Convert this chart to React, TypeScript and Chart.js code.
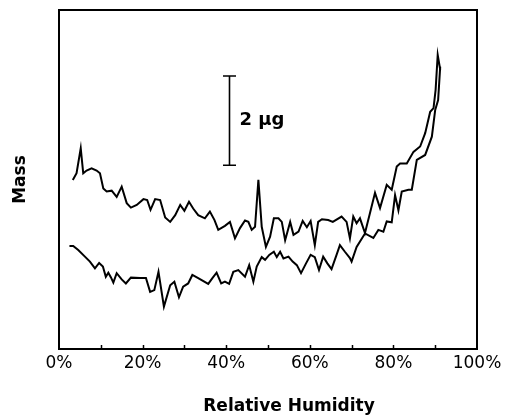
import { useEffect, useRef } from "react";
import { Chart, registerables } from "chart.js";

Chart.register(...registerables);

// Relative humidity (%) and mass (µg)
const upperHumidity = [
  3.3, 4.2, 5.2, 5.8, 6.6, 7.8, 9.0, 9.8, 10.6, 11.4, 12.6, 13.8, 15.0, 16.2, 17.2, 18.6, 20.2, 21.1, 21.9, 23.0,
  24.2, 25.4, 26.6, 27.8, 29.0, 30.0, 31.1, 32.1, 33.3, 34.9, 36.1, 37.2, 38.1, 39.7, 40.9, 42.1, 43.3, 44.5,
  45.3, 46.1, 46.9, 47.7, 48.5, 49.5, 50.5, 51.4, 52.5, 53.3, 54.1, 55.3, 56.1, 57.3, 58.3, 59.3, 60.2, 61.2,
  62.0, 62.9, 64.4, 65.5, 67.6, 68.8, 69.6, 70.4, 71.2, 72.0, 73.2, 74.4, 75.6, 76.8, 78.4, 79.6, 80.8, 81.6,
  83.2, 84.8, 86.4, 87.6, 88.8, 89.6, 90.1, 90.6, 91.2,
];
const upperMass = [
  3.79, 3.94, 4.5, 3.94, 4.0, 4.05, 4.0, 3.94, 3.6, 3.53, 3.55, 3.41, 3.64, 3.27, 3.17, 3.23, 3.36, 3.34, 3.12, 3.36,
  3.34, 2.95, 2.85, 3.0, 3.23, 3.1, 3.3, 3.15, 3.0, 2.93, 3.08, 2.89, 2.67, 2.76, 2.85, 2.48, 2.71, 2.88,
  2.85, 2.67, 2.74, 3.79, 2.74, 2.29, 2.52, 2.93, 2.93, 2.85, 2.44, 2.85, 2.56, 2.63, 2.87, 2.73, 2.87, 2.33,
  2.85, 2.91, 2.89, 2.85, 2.97, 2.85, 2.48, 2.97, 2.82, 2.93, 2.6, 3.05, 3.5, 3.16, 3.68, 3.57, 4.09, 4.16,
  4.16, 4.42, 4.54, 4.84, 5.32, 5.4, 5.81, 6.59, 6.26,
];

const lowerHumidity = [
  2.5, 3.4, 4.6, 6.2, 7.4, 8.6, 9.6, 10.5, 11.2, 11.8, 12.4, 13.0, 13.8, 15.0, 16.0, 17.2, 19.4, 20.8, 21.8, 22.8,
  23.8, 25.1, 26.6, 27.6, 28.7, 29.7, 30.9, 31.9, 33.3, 35.7, 36.7, 37.7, 38.8, 39.7, 40.7, 41.7, 42.9, 44.5,
  45.5, 46.5, 47.3, 48.5, 49.3, 50.3, 51.4, 52.1, 52.9, 53.7, 54.9, 55.9, 56.9, 57.9, 59.1, 60.2, 61.2, 62.2,
  63.2, 64.2, 65.2, 66.4, 67.2, 68.4, 69.6, 70.0, 71.2, 73.2, 75.2, 76.4, 77.6, 78.4, 79.6, 80.4, 81.2, 82.0,
  83.6, 84.4, 85.6, 87.6, 89.2, 90.0, 90.7, 91.2,
];
const lowerMass = [
  2.31, 2.31, 2.22, 2.07, 1.96, 1.81, 1.93, 1.85, 1.62, 1.71, 1.61, 1.49, 1.7, 1.56, 1.47, 1.6, 1.59, 1.59, 1.28, 1.32,
  1.73, 0.95, 1.43, 1.51, 1.16, 1.4, 1.47, 1.66, 1.59, 1.46, 1.59, 1.71, 1.47, 1.51, 1.46, 1.73, 1.77, 1.62,
  1.88, 1.51, 1.85, 2.06, 2.0, 2.11, 2.18, 2.06, 2.18, 2.03, 2.07, 1.96, 1.88, 1.7, 1.92, 2.11, 2.06, 1.77,
  2.07, 1.92, 1.79, 2.11, 2.33, 2.18, 2.04, 1.96, 2.29, 2.59, 2.49, 2.67, 2.63, 2.86, 2.84, 3.45, 3.11, 3.53,
  3.57, 3.57, 4.24, 4.35, 4.76, 5.36, 5.58, 6.33,
];

const xMin = 0;
const xMax = 100;
const xLabelStep = 20;
const minorTickValues = [10, 20, 30, 40, 50, 60, 70, 80, 90];
const yMin = 0;
const yMax = 7.6;

// Scale bar: 2 µg
const scaleBarHumidity = 40.7;
const scaleBarBottom = 4.12;
const scaleBarSize = 2;
const scaleBarLabel = "2 μg";

const xTitle = "Relative Humidity";
const yTitle = "Mass";

const FONT = '"DejaVu Sans", sans-serif';

const decorPlugin = {
  id: "decor",
  afterDraw(chart: any) {
    const { ctx, chartArea: a, scales } = chart;
    const x = scales.x;
    const y = scales.y;
    ctx.save();
    ctx.strokeStyle = "#000";
    ctx.fillStyle = "#000";
    ctx.lineWidth = 2;
    ctx.strokeRect(a.left, a.top, a.right - a.left, a.bottom - a.top);

    ctx.lineWidth = 1.5;
    for (const v of minorTickValues) {
      const px = Math.round(x.getPixelForValue(v)) + 0.5;
      ctx.beginPath();
      ctx.moveTo(px, a.bottom);
      ctx.lineTo(px, a.bottom - 4);
      ctx.stroke();
    }

    const bx = Math.round(x.getPixelForValue(scaleBarHumidity)) + 0.5;
    const b0 = y.getPixelForValue(scaleBarBottom);
    const b1 = y.getPixelForValue(scaleBarBottom + scaleBarSize);
    ctx.lineWidth = 1.6;
    ctx.beginPath();
    ctx.moveTo(bx, b0);
    ctx.lineTo(bx, b1);
    ctx.moveTo(bx - 6.5, b0);
    ctx.lineTo(bx + 6.5, b0);
    ctx.moveTo(bx - 6.5, b1);
    ctx.lineTo(bx + 6.5, b1);
    ctx.stroke();

    ctx.font = `bold 18px ${FONT}`;
    ctx.textAlign = "left";
    ctx.textBaseline = "middle";
    ctx.fillText(scaleBarLabel, bx + 10, (b0 + b1) / 2);

    ctx.font = `bold 17px ${FONT}`;
    ctx.textAlign = "center";
    ctx.fillText(xTitle, (a.left + a.right) / 2 + 21, 407);

    ctx.translate(21, (a.top + a.bottom) / 2);
    ctx.rotate(-Math.PI / 2);
    ctx.fillText(yTitle, 0, 0);
    ctx.restore();
  },
};

export default function App() {
  const ref = useRef<HTMLCanvasElement | null>(null);

  useEffect(() => {
    if (!ref.current) return;
    const upper = upperHumidity.map((h, i) => ({ x: h, y: upperMass[i] }));
    const lower = lowerHumidity.map((h, i) => ({ x: h, y: lowerMass[i] }));
    const chart = new Chart(ref.current, {
      type: "line",
      data: {
        datasets: [
          {
            data: upper,
            borderColor: "#000",
            borderWidth: 2,
            pointRadius: 0,
            tension: 0,
            fill: false,
          },
          {
            data: lower,
            borderColor: "#000",
            borderWidth: 2,
            pointRadius: 0,
            tension: 0,
            fill: false,
          },
        ],
      },
      options: {
        animation: false,
        responsive: false,
        maintainAspectRatio: false,
        layout: { padding: { left: 59, right: 31, top: 10, bottom: 0 } },
        plugins: { legend: { display: false }, tooltip: { enabled: false } },
        scales: {
          x: {
            type: "linear",
            min: xMin,
            max: xMax,
            grid: { display: false, drawTicks: false },
            border: { display: false },
            ticks: {
              stepSize: xLabelStep,
              color: "#000",
              padding: 4,
              maxRotation: 0,
              font: { family: FONT, size: 17 },
              callback: (v: any) => `${v}%`,
            },
            afterFit: (scale: any) => {
              scale.height = 68;
            },
          },
          y: {
            type: "linear",
            min: yMin,
            max: yMax,
            display: false,
          },
        },
      },
      plugins: [decorPlugin],
    });
    return () => chart.destroy();
  }, []);

  return (
    <div style={{ position: "fixed", left: 0, top: 0, width: 508, height: 417, background: "#fff" }}>
      <canvas ref={ref} width={508} height={417} style={{ width: 508, height: 417, display: "block" }} />
    </div>
  );
}
